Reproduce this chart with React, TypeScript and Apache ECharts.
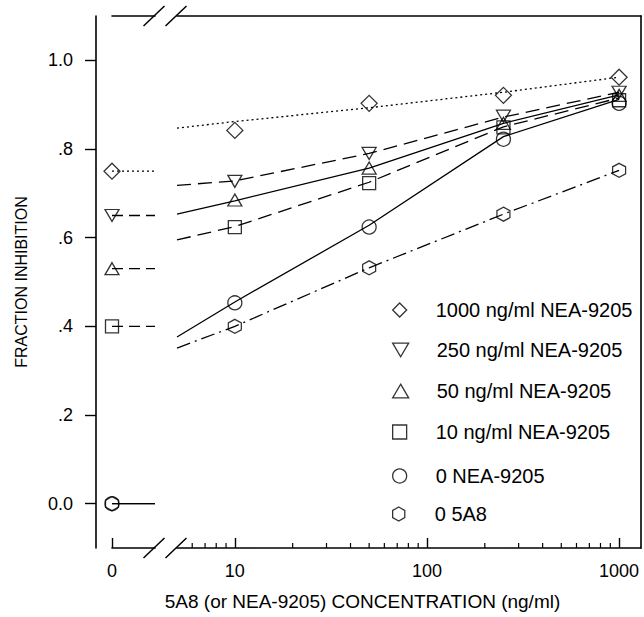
import React, { useEffect, useRef } from 'react';
import * as echarts from 'echarts';

// Series names (legend order)
const GROUPS = [
  '1000 ng/ml NEA-9205',
  '250 ng/ml NEA-9205',
  '50 ng/ml NEA-9205',
  '10 ng/ml NEA-9205',
  '0 NEA-9205',
  '0 5A8',
];

// Fraction inhibition with no 5A8 (or NEA-9205) added, plotted at "0"
const ZERO_VALUES = [0.75, 0.65, 0.53, 0.4, 0.0, 0.0];
// The short stubs at "0" run from 0 to the end of the broken segment
const STUB_END = 1;

// Measured points on the log axis
const DOSES = [10, 50, 250, 1000];
const MEAS_1000 = [0.842, 0.903, 0.921, 0.962];
const MEAS_250 = [0.727, 0.79, 0.874, 0.928];
const MEAS_50 = [0.685, 0.757, 0.858, 0.921];
const MEAS_10 = [0.624, 0.723, 0.849, 0.91];
const MEAS_NONE = [0.453, 0.624, 0.822, 0.903];
const MEAS_5A8_NONE = [0.4, 0.532, 0.653, 0.752];

// Fitted curves
const FIT_DOSES = [5, 10, 50, 250, 1000];
const FIT_1000 = [0.847, 0.862, 0.893, 0.928, 0.962];
const FIT_250 = [0.718, 0.728, 0.79, 0.872, 0.928];
const FIT_50 = [0.653, 0.683, 0.757, 0.858, 0.922];
const FIT_10 = [0.595, 0.625, 0.725, 0.85, 0.915];
const FIT_NONE = [0.376, 0.455, 0.628, 0.828, 0.912];
const FIT_5A8_NONE = [0.351, 0.4, 0.532, 0.653, 0.752];

const MEAS = [MEAS_1000, MEAS_250, MEAS_50, MEAS_10, MEAS_NONE, MEAS_5A8_NONE];
const FITS = [FIT_1000, FIT_250, FIT_50, FIT_10, FIT_NONE, FIT_5A8_NONE];

// Axis ticks
const Y_TICKS = [0, 0.2, 0.4, 0.6, 0.8, 1.0];
const X_MIN = 5;
const X_MAX = 1300;
const MINOR_TICKS = [6, 7, 8, 9, 20, 30, 40, 50, 60, 70, 80, 90, 200, 300, 400, 500, 600, 700, 800, 900];

// Marker shapes
const SYMBOLS = [
  'path://M0,-10L10,0L0,10L-10,0Z',
  'path://M-10,-8L10,-8L0,9Z',
  'path://M0,-9L10,8L-10,8Z',
  'path://M-10,-10L10,-10L10,10L-10,10Z',
  'circle',
  'path://M0,-10L8.66,-5L8.66,5L0,10L-8.66,5L-8.66,-5Z',
];
const SYMBOL_SIZES: any[] = [[16, 16], [14, 12], [14, 12], [13, 13], 14, [13, 14]];

const FIT_STYLES: any[] = [[2, 3], [14, 7], 'solid', [14, 7], 'solid', [14, 5, 2, 5]];
const STUB_STYLES: any[] = [[2, 3], [11, 6], [11, 6], [11, 6], 'solid', 'solid'];

const LEGEND_ROWS = [307, 347, 388, 429, 473, 511];

const FONT = '"Liberation Sans", Arial, Helvetica, sans-serif';
const INK = '#000';

export default function App() {
  const ref = useRef<HTMLDivElement>(null);

  useEffect(() => {
    document.body.style.margin = '0';
    if (!ref.current) return;
    const chart = echarts.init(ref.current, undefined, { renderer: 'svg' });

    const markerStyle = { color: 'rgba(0,0,0,0)', borderColor: INK, borderWidth: 1.3 };
    const series: any[] = [];

    GROUPS.forEach((name, i) => {
      series.push({
        type: 'scatter',
        name,
        xAxisIndex: 2,
        yAxisIndex: 1,
        data: DOSES.map((d, j) => [d, MEAS[i][j]]),
        symbol: SYMBOLS[i],
        symbolSize: SYMBOL_SIZES[i],
        itemStyle: markerStyle,
        clip: false,
        z: 3,
      });
    });
    GROUPS.forEach((name, i) => {
      series.push({
        type: 'line',
        name,
        xAxisIndex: 2,
        yAxisIndex: 1,
        data: FIT_DOSES.map((d, j) => [d, FITS[i][j]]),
        symbol: 'none',
        lineStyle: { color: INK, width: 1.3, type: FIT_STYLES[i] },
        z: 2,
      });
      series.push({
        type: 'scatter',
        name,
        xAxisIndex: 0,
        yAxisIndex: 0,
        data: [[0, ZERO_VALUES[i]]],
        symbol: SYMBOLS[i],
        symbolSize: SYMBOL_SIZES[i],
        itemStyle: markerStyle,
        clip: false,
        z: 3,
      });
      series.push({
        type: 'line',
        name,
        xAxisIndex: 0,
        yAxisIndex: 0,
        data: [[0, ZERO_VALUES[i]], [STUB_END, ZERO_VALUES[i]]],
        symbol: 'none',
        lineStyle: { color: INK, width: 1.3, type: STUB_STYLES[i] },
        z: 2,
      });
    });

    const frameLine = { show: true, onZero: false, lineStyle: { color: INK, width: 1.6 } };
    const bare = {
      axisTick: { show: false },
      axisLabel: { show: false },
      splitLine: { show: false },
    };

    const legends = GROUPS.map((name, i) => ({
      data: [{ name, icon: SYMBOLS[i] }],
      left: 392,
      top: LEGEND_ROWS[i] - 7,
      padding: 0,
      itemWidth: 16,
      itemHeight: 14,
      itemGap: 0,
      selectedMode: false,
      itemStyle: { color: 'rgba(0,0,0,0)', borderColor: INK, borderWidth: 1.3 },
      textStyle: { color: INK, fontSize: 20, fontFamily: FONT, padding: [0, 0, 0, 23] },
    }));

    chart.setOption({
      animation: false,
      backgroundColor: '#fff',
      textStyle: { fontFamily: FONT, color: INK },
      grid: [
        { left: 112, width: 43, top: 16, height: 532 },
        { left: 177, right: 3, top: 16, height: 532 },
      ],
      xAxis: [
        {
          gridIndex: 0,
          type: 'value',
          min: 0,
          max: STUB_END,
          axisLine: frameLine,
          axisTick: { show: true, inside: true, length: 10, customValues: [0], lineStyle: { color: INK, width: 1.4 } },
          axisLabel: { show: true, customValues: [0], margin: 14, fontSize: 18, color: INK, fontFamily: FONT, formatter: (v: number) => String(v) },
          splitLine: { show: false },
        },
        { gridIndex: 0, type: 'value', position: 'top', min: 0, max: STUB_END, axisLine: frameLine, ...bare },
        {
          gridIndex: 1,
          type: 'log',
          logBase: 10,
          min: X_MIN,
          max: X_MAX,
          axisLine: frameLine,
          axisTick: { show: true, inside: true, length: 10, lineStyle: { color: INK, width: 1.4 } },
          axisLabel: {
            show: true,
            margin: 14,
            fontSize: 18,
            color: INK,
            fontFamily: FONT,
            showMinLabel: false,
            showMaxLabel: false,
            formatter: (v: number) => String(Math.round(v)),
          },
          splitLine: { show: false },
          minorTick: { show: false },
        },
        { gridIndex: 1, type: 'value', position: 'top', min: 0, max: 1, axisLine: frameLine, ...bare },
      ],
      yAxis: [
        {
          gridIndex: 0,
          type: 'value',
          min: -0.1,
          max: 1.1,
          offset: 16,
          axisLine: frameLine,
          axisTick: { show: true, length: 11, customValues: Y_TICKS, lineStyle: { color: INK, width: 1.4 } },
          axisLabel: {
            show: true,
            customValues: Y_TICKS,
            margin: 23,
            fontSize: 18,
            color: INK,
            fontFamily: FONT,
            formatter: (v: number) => (v === 0 ? '0.0' : v >= 1 ? '1.0' : '.' + Math.round(v * 10)),
          },
          splitLine: { show: false },
          name: 'FRACTION INHIBITION',
          nameLocation: 'middle',
          nameGap: 67,
          nameTextStyle: { fontSize: 16, color: INK, fontFamily: FONT },
        },
        {
          gridIndex: 1,
          type: 'value',
          position: 'right',
          min: -0.1,
          max: 1.1,
          axisLine: frameLine,
          ...bare,
        },
      ],
      legend: legends,
      series,
    });

    // Axis-break slashes, minor log ticks and the x-axis title
    const px = (gridIndex: number, x: number, y: number) =>
      chart.convertToPixel({ gridIndex } as any, [x, y]) as number[];
    const [, yBottom] = px(1, X_MIN, -0.1);
    const [, yTop] = px(1, X_MIN, 1.1);
    const [s1] = px(0, STUB_END, 0);
    const [s2] = px(1, X_MIN, 0);
    const [xAxisLeft] = px(0, 0, 0);
    const [xRight] = px(1, X_MAX, 0);
    const slash = (cx: number, cy: number) => ({
      type: 'line',
      shape: { x1: cx - 10.5, y1: cy + 10, x2: cx + 10.5, y2: cy - 10 },
      style: { stroke: INK, lineWidth: 1.5 },
      silent: true,
    });
    const graphic: any[] = [
      slash(s1 - 1, yBottom),
      slash(s2 - 1, yBottom),
      slash(s1 - 1, yTop),
      slash(s2 - 1, yTop),
    ];
    MINOR_TICKS.forEach((m) => {
      const [x] = px(1, m, 0);
      graphic.push({
        type: 'line',
        shape: { x1: x, y1: yBottom, x2: x, y2: yBottom - 5 },
        style: { stroke: INK, lineWidth: 1.2 },
        silent: true,
      });
    });
    graphic.push({
      type: 'text',
      x: (xAxisLeft - 16 + xRight) / 2 - 6,
      y: 601,
      style: {
        text: '5A8 (or NEA-9205) CONCENTRATION (ng/ml)',
        fontSize: 19,
        fontFamily: FONT,
        fill: INK,
        align: 'center',
        verticalAlign: 'middle',
      },
      silent: true,
    });
    chart.setOption({ graphic });

    return () => chart.dispose();
  }, []);

  return <div ref={ref} style={{ width: 644, height: 617 }} />;
}
